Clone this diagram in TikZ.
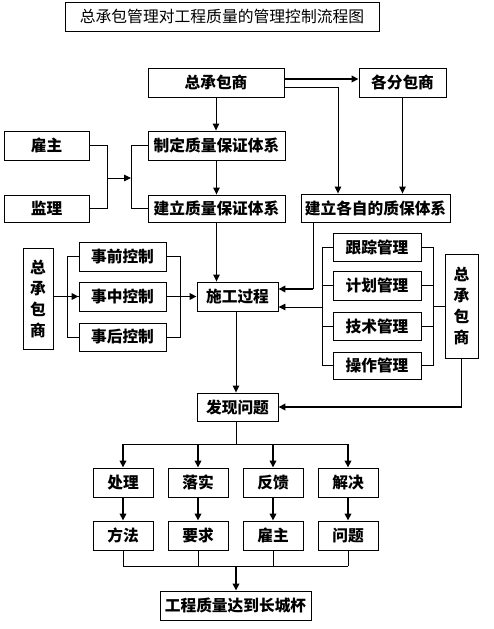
\documentclass[tikz,border=0pt]{standalone}
\usepackage{fontspec}
\newfontfamily\cjk{Noto Sans CJK SC}
\usetikzlibrary{arrows.meta}
\begin{document}
\begin{tikzpicture}[x=1pt,y=-1pt,
  bx/.style={draw,line width=0.9pt,inner sep=0pt,font=\cjk\bfseries\fontsize{15.7}{18}\selectfont},
  ln/.style={line width=0.9pt},
  tk/.style={line width=1.9pt},
  arr/.style={-{Triangle[length=7pt,width=6.5pt]}},
]
\useasboundingbox (0,0) rectangle (493,629);
\fill[white] (0,0) rectangle (493,629);
% title
\node[draw,line width=0.9pt,minimum width=314pt,minimum height=29pt,inner sep=0pt,font=\cjk\fontsize{15.8}{18}\selectfont] (title) at (222,16.5) {总承包管理对工程质量的管理控制流程图};
% top
\node[bx,minimum width=136pt,minimum height=29pt] (zcb) at (216,82.5) {总承包商};
\node[bx,minimum width=87pt,minimum height=29pt] (gfb) at (402.5,82.5) {各分包商};
\node[bx,minimum width=85pt,minimum height=29pt] (gz) at (46.5,145.5) {雇主};
\node[bx,minimum width=85pt,minimum height=27pt] (jl) at (46.5,208.5) {监理};
\node[bx,minimum width=137pt,minimum height=29pt] (zd) at (216.5,145.5) {制定质量保证体系};
\node[bx,minimum width=137pt,minimum height=27pt] (jlz) at (216.5,208.5) {建立质量保证体系};
\node[bx,minimum width=149pt,minimum height=28pt] (gzz) at (375.5,208) {建立各自的质保体系};
% middle
\node[bx,minimum width=81pt,minimum height=29pt] (sg) at (237.5,296.5) {施工过程};
\node[bx,minimum width=30pt,minimum height=101pt,align=center,font=\cjk\bfseries\fontsize{15.7}{21}\selectfont] (zcbL) at (38,298.5) {总\\承\\包\\商};
\node[bx,minimum width=87pt,minimum height=29pt] (sq) at (122.5,256.5) {事前控制};
\node[bx,minimum width=87pt,minimum height=29pt] (sz) at (122.5,296.5) {事中控制};
\node[bx,minimum width=87pt,minimum height=28pt] (sh) at (122.5,337) {事后控制};
\node[bx,minimum width=88pt,minimum height=28pt] (gzgl) at (377,247) {跟踪管理};
\node[bx,minimum width=88pt,minimum height=29pt] (jhgl) at (377,285.5) {计划管理};
\node[bx,minimum width=88pt,minimum height=28pt] (jsgl) at (377,326) {技术管理};
\node[bx,minimum width=88pt,minimum height=27pt] (czgl) at (377,365.5) {操作管理};
\node[bx,minimum width=33pt,minimum height=104pt,align=center,font=\cjk\bfseries\fontsize{15.7}{21}\selectfont] (zcbR) at (461.5,306) {总\\承\\包\\商};
\node[bx,minimum width=81pt,minimum height=28pt] (fx) at (237.5,407) {发现问题};
% bottom rows
\node[bx,minimum width=60pt,minimum height=29pt] (cl) at (123,482.5) {处理};
\node[bx,minimum width=60pt,minimum height=29pt] (ls) at (198,482.5) {落实};
\node[bx,minimum width=60pt,minimum height=29pt] (fk) at (273,482.5) {反馈};
\node[bx,minimum width=60pt,minimum height=29pt] (jj) at (348,482.5) {解决};
\node[bx,minimum width=60pt,minimum height=29pt] (ff) at (123,535.5) {方法};
\node[bx,minimum width=60pt,minimum height=29pt] (yq) at (198,535.5) {要求};
\node[bx,minimum width=60pt,minimum height=29pt] (gz3) at (273,535.5) {雇主};
\node[bx,minimum width=60pt,minimum height=29pt] (wt) at (348,535.5) {问题};
\node[bx,minimum width=151pt,minimum height=29pt] (final) at (235.5,605.5) {工程质量达到长城杯};
% coordinates
\coordinate (bl1) at (107,178);
\coordinate (bl2) at (131,178);
\coordinate (rb1) at (323,307);
\coordinate (rb2) at (433,306);
\coordinate (sp) at (236,444);
\coordinate (jn) at (236,566);
% top connectors
\draw[tk,arr] ([yshift=3.5pt]zcb.east) -- ([yshift=3.5pt]zcb.east -| gfb.west);
\draw[ln,arr] ([yshift=-4.5pt]zcb.east) -| ([xshift=-37.5pt]gzz.north);
\draw[ln,arr] (gfb.south) -- (gfb.south |- gzz.north);
\draw[ln,arr] (zcb.south) -- (zcb.south |- zd.north);
\draw[ln,arr] (zd.south) -- (jlz.north);
\draw[ln] (gz.east) -| (jl.east -| bl1) -- (jl.east);
\draw[ln,arr] (bl1) -- (bl2);
\draw[ln] (zd.west) -| (jlz.west -| bl2) -- (jlz.west);
% to construction
\draw[ln,arr] (jlz.south) -- (jlz.south |- sg.north);
\draw[ln] ([xshift=-62.5pt]gzz.south) -- ([xshift=-62.5pt]gzz.south |- 0,289);
\draw[tk,arr] (313,289) -- ([yshift=7.5pt]sg.east);
% left group
\draw[ln] (sq.west) -- ++(-11,0) |- (sh.west);
\draw[ln] (sz.west -| sq.west) ++(-11,0) -- (sz.west);
\draw[ln] (sq.east) -- ++(14,0) |- (sh.east);
\draw[tk,arr] (sz.west -| zcbL.east) -- (sz.west);
\draw[tk,arr] (sz.east) -- (sg.west);
% right group
\draw[ln] (gzgl.west) -- ++(-10,0) |- (czgl.west);
\draw[ln] (jhgl.west) -- ++(-10,0);
\draw[ln] (jsgl.west) -- ++(-10,0);
\draw[ln] (gzgl.east) -- ++(12,0) |- (czgl.east);
\draw[ln] (jhgl.east) -- ++(12,0);
\draw[ln] (jsgl.east) -- ++(12,0);
\draw[ln,arr] (rb1) -- (rb1 -| sg.east);
\draw[ln] (rb2) -- (zcbR.west);
\draw[ln] (zcbR.south) -- (zcbR.south |- fx.east);
\draw[tk,arr] (zcbR.south |- fx.east) -- (fx.east);
\draw[ln,arr] ([xshift=-1.5pt]sg.south) -- ([xshift=-1.5pt]fx.north);
% bottom
\draw[ln] ([xshift=-1.5pt]fx.south) -- (sp);
\draw[ln] (sp -| cl.north) -- (sp -| jj.north);
\foreach \n in {cl,ls,fk,jj} \draw[tk,arr] (sp -| \n.north) -- (\n.north);
\draw[tk,arr] (cl.south) -- (ff.north);
\draw[tk,arr] (ls.south) -- (yq.north);
\draw[tk,arr] (fk.south) -- (gz3.north);
\draw[tk,arr] (jj.south) -- (wt.north);
\foreach \n in {ff,yq,gz3,wt} \draw[ln] (\n.south) -- (jn -| \n.south);
\draw[ln] (jn -| ff.south) -- (jn -| wt.south);
\draw[tk,arr] (jn) -- (jn |- final.north);
\end{tikzpicture}
\end{document}
